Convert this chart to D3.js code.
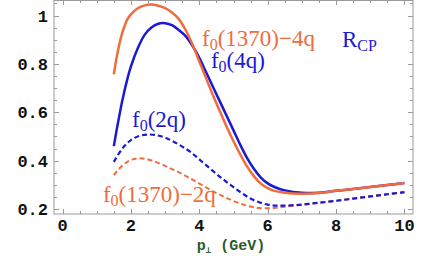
<!DOCTYPE html>
<html>
<head>
<meta charset="utf-8">
<script src="https://cdn.jsdelivr.net/npm/d3@7"></script>
<style>
  body { margin: 0; background: #fff; }
  svg { display: block; }
</style>
</head>
<body>
<div id="chart"></div>
<script>
// x values (p_perp, GeV) shared by the solid curves
var xSolid = [1.5, 1.6, 1.75, 1.9, 2.0, 2.2, 2.4, 2.6, 2.8, 3.0, 3.2, 3.4, 3.6, 3.8, 4.0, 4.2, 4.4, 4.6, 4.8, 5.0, 5.2, 5.4, 5.6, 5.8, 6.0, 6.2, 6.5, 7.0, 7.5, 8.0, 8.5, 9.0, 9.5, 10]
var f0_4q      = [0.46, 0.54, 0.65, 0.74, 0.79, 0.865, 0.92, 0.95, 0.966, 0.968, 0.96, 0.94, 0.915, 0.875, 0.825, 0.765, 0.705, 0.645, 0.585, 0.525, 0.465, 0.41, 0.365, 0.33, 0.306, 0.291, 0.277, 0.267, 0.267, 0.275, 0.283, 0.291, 0.299, 0.307]
var f1370_4q   = [0.757, 0.84, 0.93, 0.985, 1.005, 1.03, 1.042, 1.045, 1.04, 1.03, 1.012, 0.985, 0.94, 0.88, 0.81, 0.74, 0.67, 0.605, 0.54, 0.48, 0.425, 0.375, 0.335, 0.305, 0.286, 0.275, 0.267, 0.263, 0.266, 0.275, 0.283, 0.291, 0.299, 0.307]

// x values for the dashed curves
var xDashed = [1.5, 1.75, 2.0, 2.25, 2.5, 2.75, 3.0, 3.25, 3.5, 3.75, 4.0, 4.25, 4.5, 4.75, 5.0, 5.25, 5.5, 5.75, 6.0, 6.25, 6.5, 7.0, 7.5, 8.0, 8.5, 9.0, 9.5, 10]
var f0_2q      = [0.395, 0.45, 0.485, 0.502, 0.508, 0.505, 0.495, 0.478, 0.458, 0.435, 0.405, 0.375, 0.345, 0.317, 0.29, 0.265, 0.243, 0.228, 0.218, 0.214, 0.214, 0.218, 0.226, 0.234, 0.243, 0.252, 0.261, 0.27]
var f1370_2q   = [0.34, 0.38, 0.403, 0.41, 0.405, 0.393, 0.378, 0.362, 0.345, 0.325, 0.305, 0.285, 0.266, 0.249, 0.233, 0.22, 0.21, 0.204, 0.203, 0.205, 0.209, 0.218, 0.226, 0.234, 0.243, 0.252, 0.261, 0.268]

var xTicks = [0, 2, 4, 6, 8, 10]
var yTicks = [0.2, 0.4, 0.6, 0.8, 1]

var blue = '#1a1ad4'
var orange = '#f06c3c'

var W = 431, H = 256
var svg = d3.select('#chart').append('svg').attr('width', W).attr('height', H)
svg.append('rect').attr('width', W).attr('height', H).attr('fill', '#fff')

var x = d3.scaleLinear().domain([-0.25, 10.25]).range([54, 413])
var y = d3.scaleLinear().domain([0.1793, 1.0641]).range([214, 0])

var frameCol = '#9a9a9a'

// frame
svg.append('rect')
  .attr('x', x.range()[0]).attr('y', 0.5)
  .attr('width', x.range()[1] - x.range()[0]).attr('height', y.range()[0] - 0.5)
  .attr('fill', 'none').attr('stroke', frameCol).attr('stroke-width', 1)

// ticks (major + minor, mirrored on all sides, pointing in)
var xMinor = d3.range(0, 10.01, 0.5).filter(function(v){ return v % 2 !== 0 })
var yMinor = d3.range(0.2, 1.06, 0.05).filter(function(v){ return Math.abs(Math.round(v*5) - v*5) > 1e-6 })
var tk = svg.append('g').attr('stroke', frameCol).attr('stroke-width', 1)
function xt(list, len) {
  list.forEach(function(v){
    var px = Math.round(x(v)) + 0.5
    tk.append('line').attr('x1', px).attr('x2', px).attr('y1', y.range()[0]).attr('y2', y.range()[0] - len)
    tk.append('line').attr('x1', px).attr('x2', px).attr('y1', 0).attr('y2', len)
  })
}
function yt(list, len) {
  list.forEach(function(v){
    var py = Math.round(y(v)) + 0.5
    tk.append('line').attr('x1', x.range()[0]).attr('x2', x.range()[0] + len).attr('y1', py).attr('y2', py)
    tk.append('line').attr('x1', x.range()[1]).attr('x2', x.range()[1] - len).attr('y1', py).attr('y2', py)
  })
}
xt(xTicks, 5); xt(xMinor, 3)
yt(yTicks, 5); yt(yMinor, 3)

// tick labels
var tickFont = '"Liberation Mono", "DejaVu Sans Mono", monospace'
svg.append('g').selectAll('text').data(xTicks).enter().append('text')
  .attr('x', function(d){ return x(d) }).attr('y', 231)
  .attr('text-anchor', 'middle')
  .attr('font-family', tickFont).attr('font-weight', 'bold').attr('font-size', 17)
  .attr('fill', '#111')
  .text(function(d){ return d })
svg.append('g').selectAll('text').data(yTicks).enter().append('text')
  .attr('x', 48).attr('y', function(d){ return y(d) + 6 })
  .attr('text-anchor', 'end')
  .attr('font-family', tickFont).attr('font-weight', 'bold').attr('font-size', 17)
  .attr('fill', '#111')
  .text(function(d){ return d === 1 ? '1' : d.toFixed(1) })

// axis title
var xt_ = svg.append('text').attr('x', 231).attr('y', 250).attr('text-anchor', 'middle')
  .attr('font-family', tickFont).attr('font-weight', 'bold').attr('font-size', 15).attr('fill', '#2c5b2c')
xt_.append('tspan').text('p')
xt_.append('tspan').attr('font-size', 9).attr('dy', 3).text('\u22a5')
xt_.append('tspan').attr('dy', -3).text(' (GeV)')

// curves
var line = d3.line().x(function(d){ return x(d[0]) }).y(function(d){ return y(d[1]) }).curve(d3.curveCatmullRom)
function pairs(xs, ys) { return xs.map(function(v, i){ return [v, ys[i]] }) }

var plot = svg.append('g')
plot.append('path').datum(pairs(xDashed, f1370_2q)).attr('d', line)
  .attr('fill', 'none').attr('stroke', orange).attr('stroke-width', 2).attr('stroke-dasharray', '5,3')
plot.append('path').datum(pairs(xDashed, f0_2q)).attr('d', line)
  .attr('fill', 'none').attr('stroke', blue).attr('stroke-width', 2.2).attr('stroke-dasharray', '5,3')
plot.append('path').datum(pairs(xSolid, f0_4q)).attr('d', line)
  .attr('fill', 'none').attr('stroke', blue).attr('stroke-width', 2.5)
plot.append('path').datum(pairs(xSolid, f1370_4q)).attr('d', line)
  .attr('fill', 'none').attr('stroke', orange).attr('stroke-width', 2.5)

// curve labels
var serif = '"Liberation Serif", "Times New Roman", serif'
function flabel(px, py, main, rest, col) {
  var t = svg.append('text').attr('x', x(px)).attr('y', y(py))
    .attr('font-family', serif).attr('font-size', 23).attr('fill', col)
  t.append('tspan').text(main)
  t.append('tspan').attr('font-size', 16).attr('dy', 4).text('0')
  t.append('tspan').attr('dy', -4).text(rest)
}
flabel(4.08, 0.872, 'f', '(1370)\u22124q', orange)
flabel(4.34, 0.784, 'f', '(4q)', blue)
flabel(2.03, 0.539, 'f', '(2q)', blue)
flabel(1.18, 0.229, 'f', '(1370)\u22122q', orange)

var r = svg.append('text').attr('x', x(8.17)).attr('y', y(0.87))
  .attr('font-family', serif).attr('font-size', 23).attr('fill', blue)
r.append('tspan').text('R')
r.append('tspan').attr('font-size', 16).attr('dy', 4).text('CP')
</script>
</body>
</html>
